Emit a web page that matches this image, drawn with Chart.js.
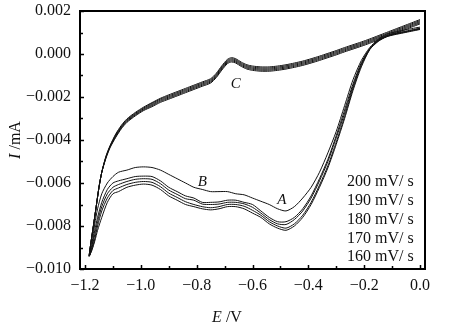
<!DOCTYPE html>
<html>
<head>
<meta charset="utf-8">
<script src="https://cdn.jsdelivr.net/npm/chart.js@4/dist/chart.umd.min.js"></script>
<style>
  html, body { margin: 0; padding: 0; background: #fff; }
  #wrap { width: 451px; height: 328px; }
</style>
</head>
<body>
<div id="wrap"><canvas id="c" width="451" height="328"></canvas></div>
<script>
// ---- data (E in V, I in mA) ----
const scanRates = ["200 mV/ s", "190 mV/ s", "180 mV/ s", "170 mV/ s", "160 mV/ s"];

// cathodic sweep 0.0 -> -1.185 V
const potentialLower = [0.00, -0.03, -0.06, -0.09, -0.12, -0.15, -0.18, -0.21, -0.24, -0.27, -0.30, -0.33, -0.36, -0.39, -0.42, -0.45, -0.48, -0.51, -0.54, -0.57, -0.60, -0.63, -0.66, -0.69, -0.72, -0.75, -0.78, -0.81, -0.84, -0.87, -0.90, -0.93, -0.96, -0.99, -1.02, -1.05, -1.08, -1.10, -1.12, -1.14, -1.155, -1.165, -1.175, -1.185];
// anodic sweep -1.178 -> 0.0 V
const potentialUpper = [-1.178, -1.17, -1.16, -1.15, -1.14, -1.125, -1.11, -1.09, -1.07, -1.05, -1.02, -0.99, -0.96, -0.93, -0.90, -0.87, -0.84, -0.81, -0.78, -0.75, -0.73, -0.71, -0.69, -0.675, -0.66, -0.64, -0.62, -0.60, -0.57, -0.54, -0.51, -0.48, -0.45, -0.42, -0.39, -0.36, -0.33, -0.30, -0.27, -0.24, -0.21, -0.18, -0.15, -0.12, -0.09, -0.06, -0.03, 0.00];

const i200Lower = [0.00114, 0.00106, 0.00098, 0.0009, 0.0008, 0.00058, 0.0002, -0.0006, -0.0017, -0.0030, -0.0042, -0.0053, -0.0062, -0.0070, -0.0076, -0.0080, -0.0082, -0.0081, -0.0079, -0.0076, -0.0074, -0.0072, -0.0071, -0.0071, -0.0072, -0.00725, -0.0072, -0.0071, -0.0070, -0.0068, -0.0066, -0.0063, -0.0061, -0.00605, -0.0061, -0.0062, -0.0064, -0.0065, -0.0069, -0.0076, -0.0082, -0.0087, -0.0091, -0.0094];
const i190Lower = [0.00116, 0.00108, 0.001, 0.00092, 0.00082, 0.0006, 0.00022, -0.00053, -0.0016, -0.0029, -0.0041, -0.0052, -0.0061, -0.0069, -0.0075, -0.0079, -0.0081, -0.008, -0.0078, -0.0075, -0.00727, -0.00708, -0.007, -0.007, -0.0071, -0.00715, -0.0071, -0.007, -0.00687, -0.00667, -0.00647, -0.00617, -0.00597, -0.00593, -0.00597, -0.00607, -0.00623, -0.00635, -0.0067, -0.0073, -0.008, -0.0086, -0.0091, -0.0094];
const i180Lower = [0.00118, 0.0011, 0.00102, 0.00094, 0.00084, 0.00062, 0.00023, -0.00047, -0.0015, -0.00275, -0.0039, -0.0050, -0.0059, -0.0067, -0.0073, -0.0077, -0.00793, -0.0079, -0.0077, -0.0074, -0.00713, -0.00697, -0.0069, -0.0069, -0.00698, -0.007, -0.00698, -0.0068, -0.00673, -0.00653, -0.00633, -0.00603, -0.00583, -0.0058, -0.00583, -0.00593, -0.00607, -0.0062, -0.0065, -0.0071, -0.0078, -0.0084, -0.009, -0.0094];
const i170Lower = [0.0012, 0.00112, 0.00104, 0.00096, 0.00086, 0.00064, 0.00025, -0.0004, -0.0014, -0.0026, -0.0038, -0.0049, -0.0058, -0.0066, -0.0072, -0.0076, -0.0078, -0.0078, -0.0076, -0.0073, -0.0070, -0.0069, -0.0068, -0.0068, -0.00688, -0.0069, -0.0069, -0.0067, -0.0066, -0.0064, -0.0062, -0.0059, -0.0057, -0.00568, -0.0057, -0.0058, -0.0059, -0.0060, -0.0063, -0.0069, -0.0076, -0.0082, -0.0089, -0.0094];
const i160Lower = [0.00125, 0.00118, 0.0011, 0.00102, 0.00092, 0.00068, 0.0003, -0.0003, -0.0012, -0.0024, -0.0036, -0.0046, -0.0055, -0.0062, -0.0067, -0.0071, -0.0073, -0.0072, -0.0070, -0.00685, -0.0067, -0.00655, -0.0065, -0.0064, -0.0064, -0.0064, -0.0063, -0.0062, -0.0060, -0.0058, -0.0056, -0.0054, -0.00528, -0.00525, -0.00528, -0.0054, -0.0055, -0.0057, -0.0060, -0.0065, -0.0072, -0.0079, -0.0088, -0.0094];

const i200Upper = [-0.0087, -0.0080, -0.0071, -0.0062, -0.0055, -0.00475, -0.00425, -0.00372, -0.00332, -0.00302, -0.00272, -0.00247, -0.00226, -0.00206, -0.0019, -0.00175, -0.0016, -0.00145, -0.0013, -0.00115, -0.0009, -0.00055, -0.00025, -0.00017, -0.00022, -0.00038, -0.0005, -0.00056, -0.0006, -0.0006, -0.00056, -0.0005, -0.00042, -0.00033, -0.00022, -0.0001, 0.00003, 0.00016, 0.0003, 0.00043, 0.00056, 0.0007, 0.00085, 0.001, 0.00115, 0.0013, 0.00145, 0.0016];
const i190Upper = [-0.0087, -0.0080, -0.0071, -0.0062, -0.0055, -0.00478, -0.00428, -0.00376, -0.00336, -0.00306, -0.00276, -0.00251, -0.0023, -0.0021, -0.00195, -0.0018, -0.00165, -0.0015, -0.00135, -0.0012, -0.00095, -0.0006, -0.0003, -0.00022, -0.00027, -0.00043, -0.00055, -0.00061, -0.00065, -0.00065, -0.00061, -0.00055, -0.00047, -0.00038, -0.00027, -0.00015, -0.00002, 0.00011, 0.00025, 0.00038, 0.00051, 0.00065, 0.0008, 0.00095, 0.0011, 0.00125, 0.0014, 0.00155];
const i180Upper = [-0.0087, -0.0080, -0.0071, -0.0062, -0.0055, -0.0048, -0.0043, -0.0038, -0.0034, -0.0031, -0.0028, -0.00255, -0.00235, -0.00215, -0.002, -0.00185, -0.0017, -0.00155, -0.0014, -0.00125, -0.001, -0.00065, -0.00035, -0.00027, -0.00032, -0.00048, -0.0006, -0.00066, -0.0007, -0.0007, -0.00066, -0.0006, -0.00052, -0.00043, -0.00032, -0.0002, -0.00007, 0.00006, 0.0002, 0.00033, 0.00046, 0.0006, 0.00075, 0.0009, 0.00105, 0.0012, 0.00135, 0.0015];
const i170Upper = [-0.0087, -0.0080, -0.0071, -0.0062, -0.0055, -0.00482, -0.00432, -0.00384, -0.00344, -0.00314, -0.00284, -0.00259, -0.0024, -0.0022, -0.00205, -0.0019, -0.00175, -0.0016, -0.00145, -0.0013, -0.00105, -0.0007, -0.0004, -0.00032, -0.00037, -0.00053, -0.00065, -0.00071, -0.00075, -0.00075, -0.00071, -0.00065, -0.00057, -0.00048, -0.00037, -0.00025, -0.00012, 0.00001, 0.00015, 0.00028, 0.00041, 0.00055, 0.0007, 0.00085, 0.001, 0.00115, 0.0013, 0.00145];
const i160Upper = [-0.0087, -0.0080, -0.0071, -0.0062, -0.0055, -0.00485, -0.00435, -0.00388, -0.00348, -0.00318, -0.00288, -0.00263, -0.00245, -0.00225, -0.0021, -0.00195, -0.0018, -0.00165, -0.0015, -0.00135, -0.0011, -0.00075, -0.00045, -0.00037, -0.00042, -0.00058, -0.0007, -0.00076, -0.0008, -0.0008, -0.00076, -0.0007, -0.00062, -0.00053, -0.00042, -0.0003, -0.00017, -0.00004, 0.0001, 0.00023, 0.00036, 0.0005, 0.00065, 0.0008, 0.00095, 0.0011, 0.00125, 0.0014];

const xTickValues = [-1.2, -1.0, -0.8, -0.6, -0.4, -0.2, 0.0];
const yTickValues = [0.002, 0.000, -0.002, -0.004, -0.006, -0.008, -0.010];
const peakLabels = ["C", "B", "A"];
const peakE = [-0.66, -0.78, -0.495];
const peakI = [-0.00142, -0.00595, -0.00679];

// ---- build datasets ----
const lowerSets = [i200Lower, i190Lower, i180Lower, i170Lower, i160Lower];
const upperSets = [i200Upper, i190Upper, i180Upper, i170Upper, i160Upper];
function loop(lower, upper) {
  const pts = [];
  potentialLower.forEach((e, k) => pts.push({ x: e, y: lower[k] }));
  potentialUpper.forEach((e, k) => pts.push({ x: e, y: upper[k] }));
  return pts;
}
const datasets = scanRates.map((lab, k) => ({
  label: lab,
  data: loop(lowerSets[k], upperSets[k]),
  showLine: true,
  borderColor: '#111',
  borderWidth: 1,
  pointRadius: 0,
  tension: 0.25,
  fill: false
}));

const SERIF = '"Liberation Serif", "Times New Roman", serif';
const minus = s => s.replace('-', '\u2212');

const decor = {
  id: 'decor',
  afterDraw(chart) {
    const { ctx, chartArea: a, scales: { x, y } } = chart;
    ctx.save();
    ctx.strokeStyle = '#000';
    // inward ticks
    ctx.lineWidth = 1.5;
    ctx.beginPath();
    for (let k = -12; k <= 0; k++) {
      const px = Math.round(x.getPixelForValue(k / 10)) + 0.5;
      const len = (k % 2 === 0) ? 4 : 3;
      ctx.moveTo(px, a.bottom);
      ctx.lineTo(px, a.bottom - len);
    }
    for (let k = -10; k <= 2; k++) {
      const py = Math.round(y.getPixelForValue(k / 1000)) + 0.5;
      const len = (k % 2 === 0) ? 4 : 3;
      ctx.moveTo(a.left, py);
      ctx.lineTo(a.left + len, py);
    }
    ctx.stroke();
    // frame
    ctx.lineWidth = 2;
    ctx.strokeRect(a.left, a.top, a.right - a.left, a.bottom - a.top);

    ctx.fillStyle = '#111';
    // peak labels
    ctx.font = 'italic 15px ' + SERIF;
    ctx.textAlign = 'center';
    ctx.textBaseline = 'middle';
    peakLabels.forEach((t, k) => {
      ctx.fillText(t, x.getPixelForValue(peakE[k]), y.getPixelForValue(peakI[k]));
    });
    // legend texts
    ctx.font = '16px ' + SERIF;
    ctx.textAlign = 'left';
    chart.data.datasets.forEach((ds, k) => {
      ctx.fillText(ds.label, a.right - 78, a.top + 171 + k * 18.8);
    });
    // x title
    ctx.textBaseline = 'alphabetic';
    const cx = 227, by = 322;
    ctx.font = 'italic 16px ' + SERIF;
    const wE = ctx.measureText('E').width;
    ctx.font = '16px ' + SERIF;
    const wR = ctx.measureText(' /V').width;
    let sx = cx - (wE + wR) / 2;
    ctx.font = 'italic 16px ' + SERIF;
    ctx.fillText('E', sx, by);
    ctx.font = '16px ' + SERIF;
    ctx.fillText(' /V', sx + wE, by);
    // y title
    ctx.translate(20, 140);
    ctx.rotate(-Math.PI / 2);
    ctx.font = 'italic 16px ' + SERIF;
    const wI = ctx.measureText('I').width;
    ctx.font = '16px ' + SERIF;
    const wM = ctx.measureText(' /mA').width;
    sx = -(wI + wM) / 2;
    ctx.font = 'italic 16px ' + SERIF;
    ctx.fillText('I', sx, 0);
    ctx.font = '16px ' + SERIF;
    ctx.fillText(' /mA', sx + wI, 0);
    ctx.restore();
  }
};

new Chart(document.getElementById('c'), {
  type: 'scatter',
  data: { datasets },
  options: {
    responsive: false,
    animation: false,
    devicePixelRatio: 1,
    layout: { padding: { top: 11, right: 26, left: 0, bottom: 0 } },
    plugins: { legend: { display: false }, tooltip: { enabled: false } },
    scales: {
      x: {
        type: 'linear',
        min: -1.218, max: 0.018,
        grid: { display: false, drawTicks: false },
        border: { display: false },
        afterFit: s => { s.height = 59; s.paddingLeft = 0; s.paddingRight = 0; },
        afterBuildTicks: s => { s.ticks = xTickValues.map(v => ({ value: v })); },
        ticks: {
          padding: 7,
          color: '#111',
          font: { family: SERIF, size: 16 },
          maxRotation: 0,
          callback: v => minus(Math.abs(v) < 1e-9 ? '0.0' : v.toFixed(1))
        }
      },
      y: {
        type: 'linear',
        min: -0.010, max: 0.002,
        grid: { display: false, drawTicks: false },
        border: { display: false },
        afterFit: s => { s.width = 80; s.paddingTop = 0; s.paddingBottom = 0; },
        afterBuildTicks: s => { s.ticks = yTickValues.map(v => ({ value: v })); },
        ticks: {
          padding: 9,
          color: '#111',
          font: { family: SERIF, size: 16 },
          callback: v => minus(Math.abs(v) < 1e-12 ? '0.000' : v.toFixed(3))
        }
      }
    }
  },
  plugins: [decor]
});
</script>
</body>
</html>
